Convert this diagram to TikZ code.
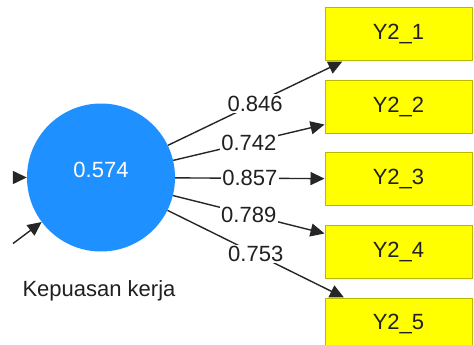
\documentclass[tikz,border=0pt]{standalone}
\usepackage{fontspec}
\setmainfont{Liberation Sans}
\usetikzlibrary{arrows.meta}
\definecolor{lvblue}{HTML}{1E90FF}
\definecolor{indfill}{HTML}{FFFF00}
\definecolor{indline}{HTML}{B8B800}
\definecolor{txt}{HTML}{202020}
\tikzset{
  latent/.style={circle, fill=lvblue, draw=none, minimum size=148pt, inner sep=0pt},
  indicator/.style={rectangle, fill=indfill, draw=indline, line width=1pt,
    minimum width=147pt, minimum height=53pt, inner sep=0pt,
    font=\fontsize{22}{25}\selectfont, text=txt},
  loading/.style={draw=black!85, line width=1.4pt,
    -{Triangle[length=14pt,width=13pt]}},
  weight/.style={fill=white, inner sep=1.5pt, text=txt,
    font=\fontsize{22}{25}\selectfont},
}
\begin{document}
\begin{tikzpicture}[x=1pt,y=-1pt]
  \clip (0,0) rectangle (474,345);
  \fill[white] (0,0) rectangle (474,345);

  % latent variable
  \node[latent] (lv) at (101,177.5) {};
  \node[text=white, font=\fontsize{22}{25}\selectfont] (r2) at (101,170) {0.574};
  \node[text=txt, font=\fontsize{22}{25}\selectfont] (lvname) at (99,291) {Kepuasan kerja};

  % indicators
  \node[indicator] (y1) at (398.5,34.5)  {Y2\_1};
  \node[indicator] (y2) at (398.5,107)   {Y2\_2};
  \node[indicator] (y3) at (398.5,179)   {Y2\_3};
  \node[indicator] (y4) at (398.5,252)   {Y2\_4};
  \node[indicator] (y5) at (398.5,324.5) {Y2\_5};

  % incoming paths from the left
  \coordinate (in1) at (13,177.5);
  \coordinate (in2) at (13,243.5);
  \draw[loading] (in1) -- (lv);
  \draw[loading] (in2) -- (lv);

  % outer loadings
  \draw[loading] (lv) -- node[weight] {0.846} (y1);
  \draw[loading] (lv) -- node[weight] {0.742} (y2);
  \draw[loading] (lv) -- node[weight] {0.857} (y3);
  \draw[loading] (lv) -- node[weight] {0.789} (y4);
  \draw[loading] (lv) -- node[weight] {0.753} (y5);
\end{tikzpicture}
\end{document}
